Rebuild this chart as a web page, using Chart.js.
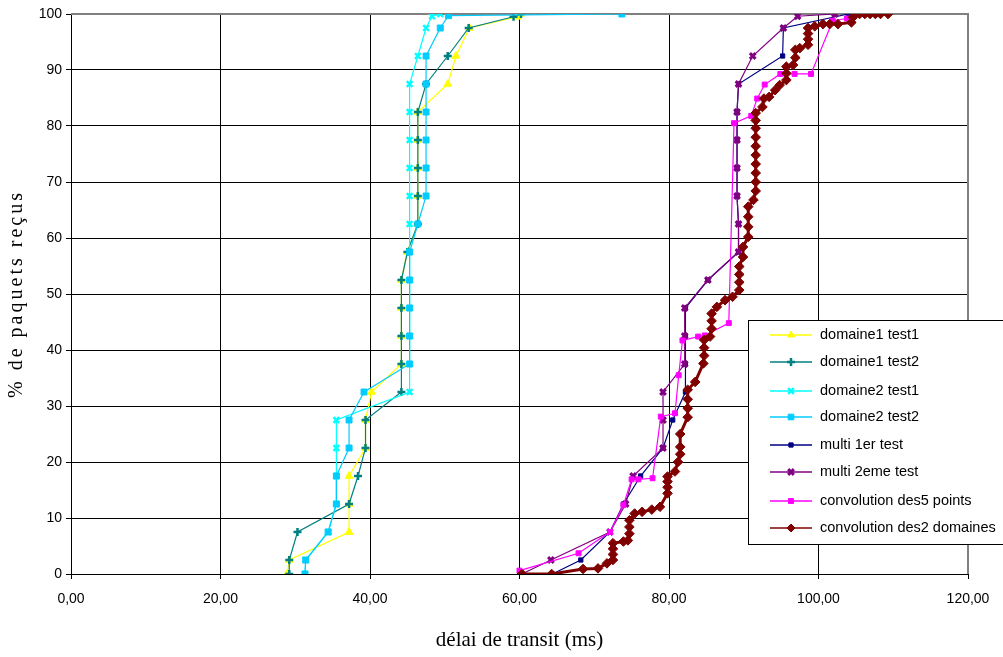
<!DOCTYPE html>
<html lang="fr">
<head>
<meta charset="utf-8">
<title>délai de transit</title>
<script src="https://cdn.jsdelivr.net/npm/chart.js@4.4.1/dist/chart.umd.min.js"></script>
<style>
    html, body { margin: 0; padding: 0; background: #fff; }
    #wrap { width: 1003px; height: 657px; }
</style>
</head>
<body>
<div id="wrap"><canvas id="transitChart" width="1003" height="657"></canvas></div>
<script>
// ---- data (delay in ms, % of packets received) ----
const xTicksMax = 120;
const yTicksMax = 100;

const domaine1Test1Delay = [28.9, 29.2, 37.2, 37.2, 37.2, 39.4, 39.4, 40.2, 44.2, 44.2, 44.2, 44.2, 45.0, 46.4, 46.4, 46.4, 46.4, 46.4, 50.4, 51.5, 53.3, 59.7, 60.1];
const domaine1Test1Pct   = [0, 2.5, 7.5, 12.5, 17.5, 22.5, 27.5, 32.5, 37.5, 42.5, 47.5, 52.5, 57.5, 62.5, 67.5, 72.5, 77.5, 82.5, 87.5, 92.5, 97.5, 99.5, 100];

const domaine1Test2Delay = [29.2, 29.2, 30.3, 37.2, 38.4, 39.4, 39.4, 44.2, 44.2, 44.2, 44.2, 44.2, 45.0, 46.4, 46.4, 46.4, 46.4, 46.4, 47.5, 50.4, 53.2, 59.2, 60.2];
const domaine1Test2Pct   = [0, 2.5, 7.5, 12.5, 17.5, 22.5, 27.5, 32.5, 37.5, 42.5, 47.5, 52.5, 57.5, 62.5, 67.5, 72.5, 77.5, 82.5, 87.5, 92.5, 97.5, 99.5, 100];

const domaine2Test1Delay = [31.3, 31.4, 34.4, 35.5, 35.5, 35.5, 35.5, 45.3, 45.3, 45.3, 45.3, 45.3, 45.3, 45.3, 45.3, 45.3, 45.3, 45.3, 45.3, 46.4, 47.5, 48.3, 49.4];
const domaine2Test1Pct   = [0, 2.5, 7.5, 12.5, 17.5, 22.5, 27.5, 32.5, 37.5, 42.5, 47.5, 52.5, 57.5, 62.5, 67.5, 72.5, 77.5, 82.5, 87.5, 92.5, 97.5, 99.6, 100];

const domaine2Test2Delay = [31.3, 31.4, 34.4, 35.5, 35.5, 37.2, 37.2, 39.2, 45.3, 45.3, 45.3, 45.3, 45.3, 46.4, 47.5, 47.5, 47.5, 47.5, 47.5, 47.5, 49.4, 50.5, 73.7];
const domaine2Test2Pct   = [0, 2.5, 7.5, 12.5, 17.5, 22.5, 27.5, 32.5, 37.5, 42.5, 47.5, 52.5, 57.5, 62.5, 67.5, 72.5, 77.5, 82.5, 87.5, 92.5, 97.5, 99.7, 100];

const multi1Delay = [64.4, 68.2, 72.1, 73.9, 76.2, 79.2, 80.5, 82.2, 82.2, 82.2, 82.2, 85.2, 89.3, 89.3, 89.1, 89.1, 89.1, 89.1, 89.3, 95.2, 95.3, 104.0];
const multi1Pct   = [0, 2.5, 7.5, 12.5, 17.5, 22.5, 27.5, 32.5, 37.5, 42.5, 47.5, 52.5, 57.5, 62.5, 67.5, 72.5, 77.5, 82.5, 87.5, 92.5, 97.5, 100];

const multi2Delay = [60.3, 64.2, 72.1, 74.2, 75.2, 79.2, 79.2, 79.2, 82.1, 82.1, 82.1, 85.2, 89.3, 89.3, 89.1, 89.1, 89.1, 89.1, 89.3, 91.2, 95.3, 97.2, 102.2];
const multi2Pct   = [0, 2.5, 7.5, 12.5, 17.5, 22.5, 27.5, 32.5, 37.5, 42.5, 47.5, 52.5, 57.5, 62.5, 67.5, 72.5, 77.5, 82.5, 87.5, 92.5, 97.5, 99.6, 100];

const conv5Delay = [60.0, 67.9, 72.1, 73.9, 75.0, 75.9, 77.8, 78.9, 80.8, 81.3, 81.8, 83.9, 84.8, 88.0, 88.7, 91.0, 91.8, 92.8, 94.9, 96.8, 99.0, 101.9, 103.8];
const conv5Pct   = [0.6, 3.7, 7.5, 12.3, 16.9, 16.9, 17.1, 28.1, 28.7, 35.5, 41.7, 42.4, 42.6, 44.8, 80.5, 81.8, 84.9, 87.4, 89.3, 89.3, 89.3, 98.8, 99.2];

const conv2Delay = [60.3, 64.3, 68.5, 70.5, 71.7, 72.5, 72.5, 72.5, 72.5, 73.9, 74.5, 74.7, 74.7, 74.7, 75.4, 76.4, 77.7, 78.8,
    79.8, 79.8, 79.8, 79.8, 80.8, 81.2, 81.5, 81.5, 81.5, 82.5, 82.5, 82.5, 82.5, 83.5, 84.6, 84.7, 84.7, 84.7, 85.5,
    85.7, 85.7, 85.7, 86.4, 87.5, 88.5, 89.4, 89.4, 89.4, 89.4, 89.9, 89.9, 90.6, 90.6, 90.6, 90.6, 91.3,
    91.6, 91.6, 91.6, 91.6, 91.6, 91.6, 91.6, 91.6, 91.6, 91.6, 92.5, 92.7, 93.4, 94.2, 94.8, 95.7, 95.7, 95.7,
    96.6, 96.9, 96.9, 97.5, 98.6, 98.6, 98.6, 98.6, 99.5, 100.6, 101.5, 102.6, 104.4, 104.6,
    105.5, 106.2, 106.9, 107.6, 108.3, 109.3];
const conv2Pct = [0, 0, 0.9, 1.0, 1.9, 2.5, 3.5, 4.5, 5.5, 5.8, 6.0, 7.2, 8.4, 9.6, 10.8, 11.1, 11.5, 12.0,
    14.4, 15.5, 16.5, 17.4, 18.3, 20.0, 21.4, 22.7, 25.0, 28.0, 29.6, 31.2, 32.9, 34.3, 37.6, 39.0, 40.4, 41.8, 42.4,
    43.8, 45.2, 46.5, 47.7, 48.9, 49.5, 50.7, 52.1, 53.5, 54.9, 56.6, 58.4, 60.2, 62.0, 63.8, 65.6, 66.8,
    68.4, 70.0, 71.6, 73.2, 74.8, 76.4, 78.0, 79.6, 81.0, 82.3, 83.4, 84.9, 85.2, 86.4, 87.3, 88.2, 89.4, 90.6,
    90.9, 92.2, 93.6, 93.9, 94.5, 95.5, 96.5, 97.5, 97.8, 98.2, 98.2, 98.2, 98.5, 99.4,
    100, 100, 100, 100, 100, 100];

const seriesLabels = ['domaine1 test1', 'domaine1 test2', 'domaine2 test1', 'domaine2 test2',
    'multi 1er test', 'multi 2eme test', 'convolution des5 points', 'convolution des2 domaines'];

// ---- styles ----
const FONT_SANS = "'Liberation Sans Narrow', 'Arial Narrow', 'Liberation Sans', Arial, sans-serif";
const FONT_SERIF = "'Liberation Serif', 'Times New Roman', serif";

const seriesStyles = [
    { color: '#FFFF00', pointStyle: 'triangle', radius: 4.5, pointBorderWidth: 1 },
    { color: '#008080', pointStyle: 'cross', radius: 4, pointBorderWidth: 2.5 },
    { color: '#00FFFF', pointStyle: 'crossRot', radius: 4, pointBorderWidth: 2.5 },
    { color: '#00CCFF', pointStyle: 'rect', radius: 4.2, pointBorderWidth: 1 },
    { color: '#000080', pointStyle: 'rect', radius: 3, pointBorderWidth: 1 },
    { color: '#800080', pointStyle: 'crossRot', radius: 4, pointBorderWidth: 3 },
    { color: '#FF00FF', pointStyle: 'rect', radius: 3.5, pointBorderWidth: 1 },
    { color: '#800000', pointStyle: 'rectRot', radius: 4.8, pointBorderWidth: 1, lineWidth: 3 }
];

const legendRowY = [335, 362, 391, 417, 445, 472, 501, 528];

/**
 * Pair delay / percentage arrays into scatter points
 */
function toPoints(xs, ys) {
    return xs.map((x, i) => ({ x: x, y: ys[i] }));
}

/**
 * Wide letter spacing on the vertical axis title, like the original sheet
 */
const baseDrawTitle = Chart.Scale.prototype.drawTitle;
Chart.Scale.prototype.drawTitle = function () {
    this.ctx.save();
    this.ctx.letterSpacing = this.axis === 'y' ? '3px' : '0px';
    baseDrawTitle.call(this);
    this.ctx.restore();
};

/**
 * Grey frame on the top and right edges of the plot area
 */
const plotFrame = {
    id: 'plotFrame',
    beforeDatasetsDraw(chart) {
        const { ctx, chartArea: a } = chart;
        ctx.save();
        ctx.strokeStyle = '#808080';
        ctx.lineWidth = 2;
        ctx.beginPath();
        ctx.moveTo(a.left, a.top);
        ctx.lineTo(a.right, a.top);
        ctx.lineTo(a.right, a.bottom);
        ctx.stroke();
        ctx.restore();
    }
};

/**
 * Boxed legend sitting over the lower right of the plot
 */
const boxedLegend = {
    id: 'boxedLegend',
    afterDraw(chart) {
        const ctx = chart.ctx;
        ctx.save();
        ctx.fillStyle = '#fff';
        ctx.fillRect(748.5, 320.5, 270, 224);
        ctx.strokeStyle = '#000';
        ctx.lineWidth = 1;
        ctx.strokeRect(748.5, 320.5, 270, 224);

        chart.data.datasets.forEach((ds, i) => {
            const y = legendRowY[i];
            ctx.strokeStyle = ds.borderColor;
            ctx.lineWidth = 1.5;
            ctx.beginPath();
            ctx.moveTo(770, y);
            ctx.lineTo(812, y);
            ctx.stroke();

            ctx.fillStyle = ds.pointBackgroundColor;
            ctx.strokeStyle = ds.pointBorderColor;
            ctx.lineWidth = ds.pointBorderWidth;
            Chart.helpers.drawPoint(ctx, {
                pointStyle: ds.pointStyle,
                radius: Math.min(ds.pointRadius, 4),
                rotation: 0,
                borderWidth: ds.pointBorderWidth
            }, 791, y);

            ctx.fillStyle = '#000';
            ctx.font = '14.5px ' + FONT_SANS;
            ctx.letterSpacing = '0px';
            ctx.textBaseline = 'middle';
            ctx.textAlign = 'left';
            ctx.fillText(ds.label, 820, y);
        });
        ctx.restore();
    }
};

const seriesData = [
    toPoints(domaine1Test1Delay, domaine1Test1Pct),
    toPoints(domaine1Test2Delay, domaine1Test2Pct),
    toPoints(domaine2Test1Delay, domaine2Test1Pct),
    toPoints(domaine2Test2Delay, domaine2Test2Pct),
    toPoints(multi1Delay, multi1Pct),
    toPoints(multi2Delay, multi2Pct),
    toPoints(conv5Delay, conv5Pct),
    toPoints(conv2Delay, conv2Pct)
];

const datasets = seriesData.map((pts, i) => {
    const s = seriesStyles[i];
    return {
        label: seriesLabels[i],
        data: pts,
        showLine: true,
        borderColor: s.color,
        borderWidth: s.lineWidth || 1.2,
        backgroundColor: s.color,
        pointStyle: s.pointStyle,
        pointRadius: s.radius,
        pointBorderWidth: s.pointBorderWidth,
        pointBackgroundColor: s.color,
        pointBorderColor: s.color,
        tension: 0,
        order: -i  // later series drawn on top, as in the sheet
    };
});

const tickFont = { family: FONT_SANS, size: 14 };

new Chart(document.getElementById('transitChart'), {
    type: 'scatter',
    data: { datasets: datasets },
    options: {
        responsive: false,
        animation: false,
        events: [],
        layout: { padding: { left: 0, right: 35, top: 14, bottom: 0 } },
        plugins: {
            legend: { display: false },
            tooltip: { enabled: false }
        },
        scales: {
            x: {
                type: 'linear',
                min: 0,
                max: xTicksMax,
                ticks: {
                    stepSize: 20,
                    color: '#000',
                    font: tickFont,
                    padding: 12,
                    maxRotation: 0,
                    callback: v => v.toFixed(2).replace('.', ',')
                },
                grid: { color: '#000', lineWidth: 1, tickLength: 5 },
                border: { color: '#000', width: 1 },
                title: {
                    display: true,
                    text: 'délai de transit (ms)',
                    color: '#000',
                    font: { family: FONT_SERIF, size: 21 },
                    padding: { top: 0, bottom: 4 }
                },
                afterFit(scale) { scale.height = 83; }
            },
            y: {
                type: 'linear',
                min: 0,
                max: yTicksMax,
                ticks: {
                    stepSize: 10,
                    color: '#000',
                    font: tickFont,
                    padding: 4
                },
                grid: { color: '#000', lineWidth: 1, tickLength: 5 },
                border: { color: '#000', width: 1 },
                title: {
                    display: true,
                    text: '% de paquets reçus',
                    color: '#000',
                    font: { family: FONT_SERIF, size: 20 },
                    padding: { top: 5, bottom: 0 }
                },
                afterFit(scale) { scale.width = 71; }
            }
        }
    },
    plugins: [plotFrame, boxedLegend]
});
</script>
</body>
</html>
